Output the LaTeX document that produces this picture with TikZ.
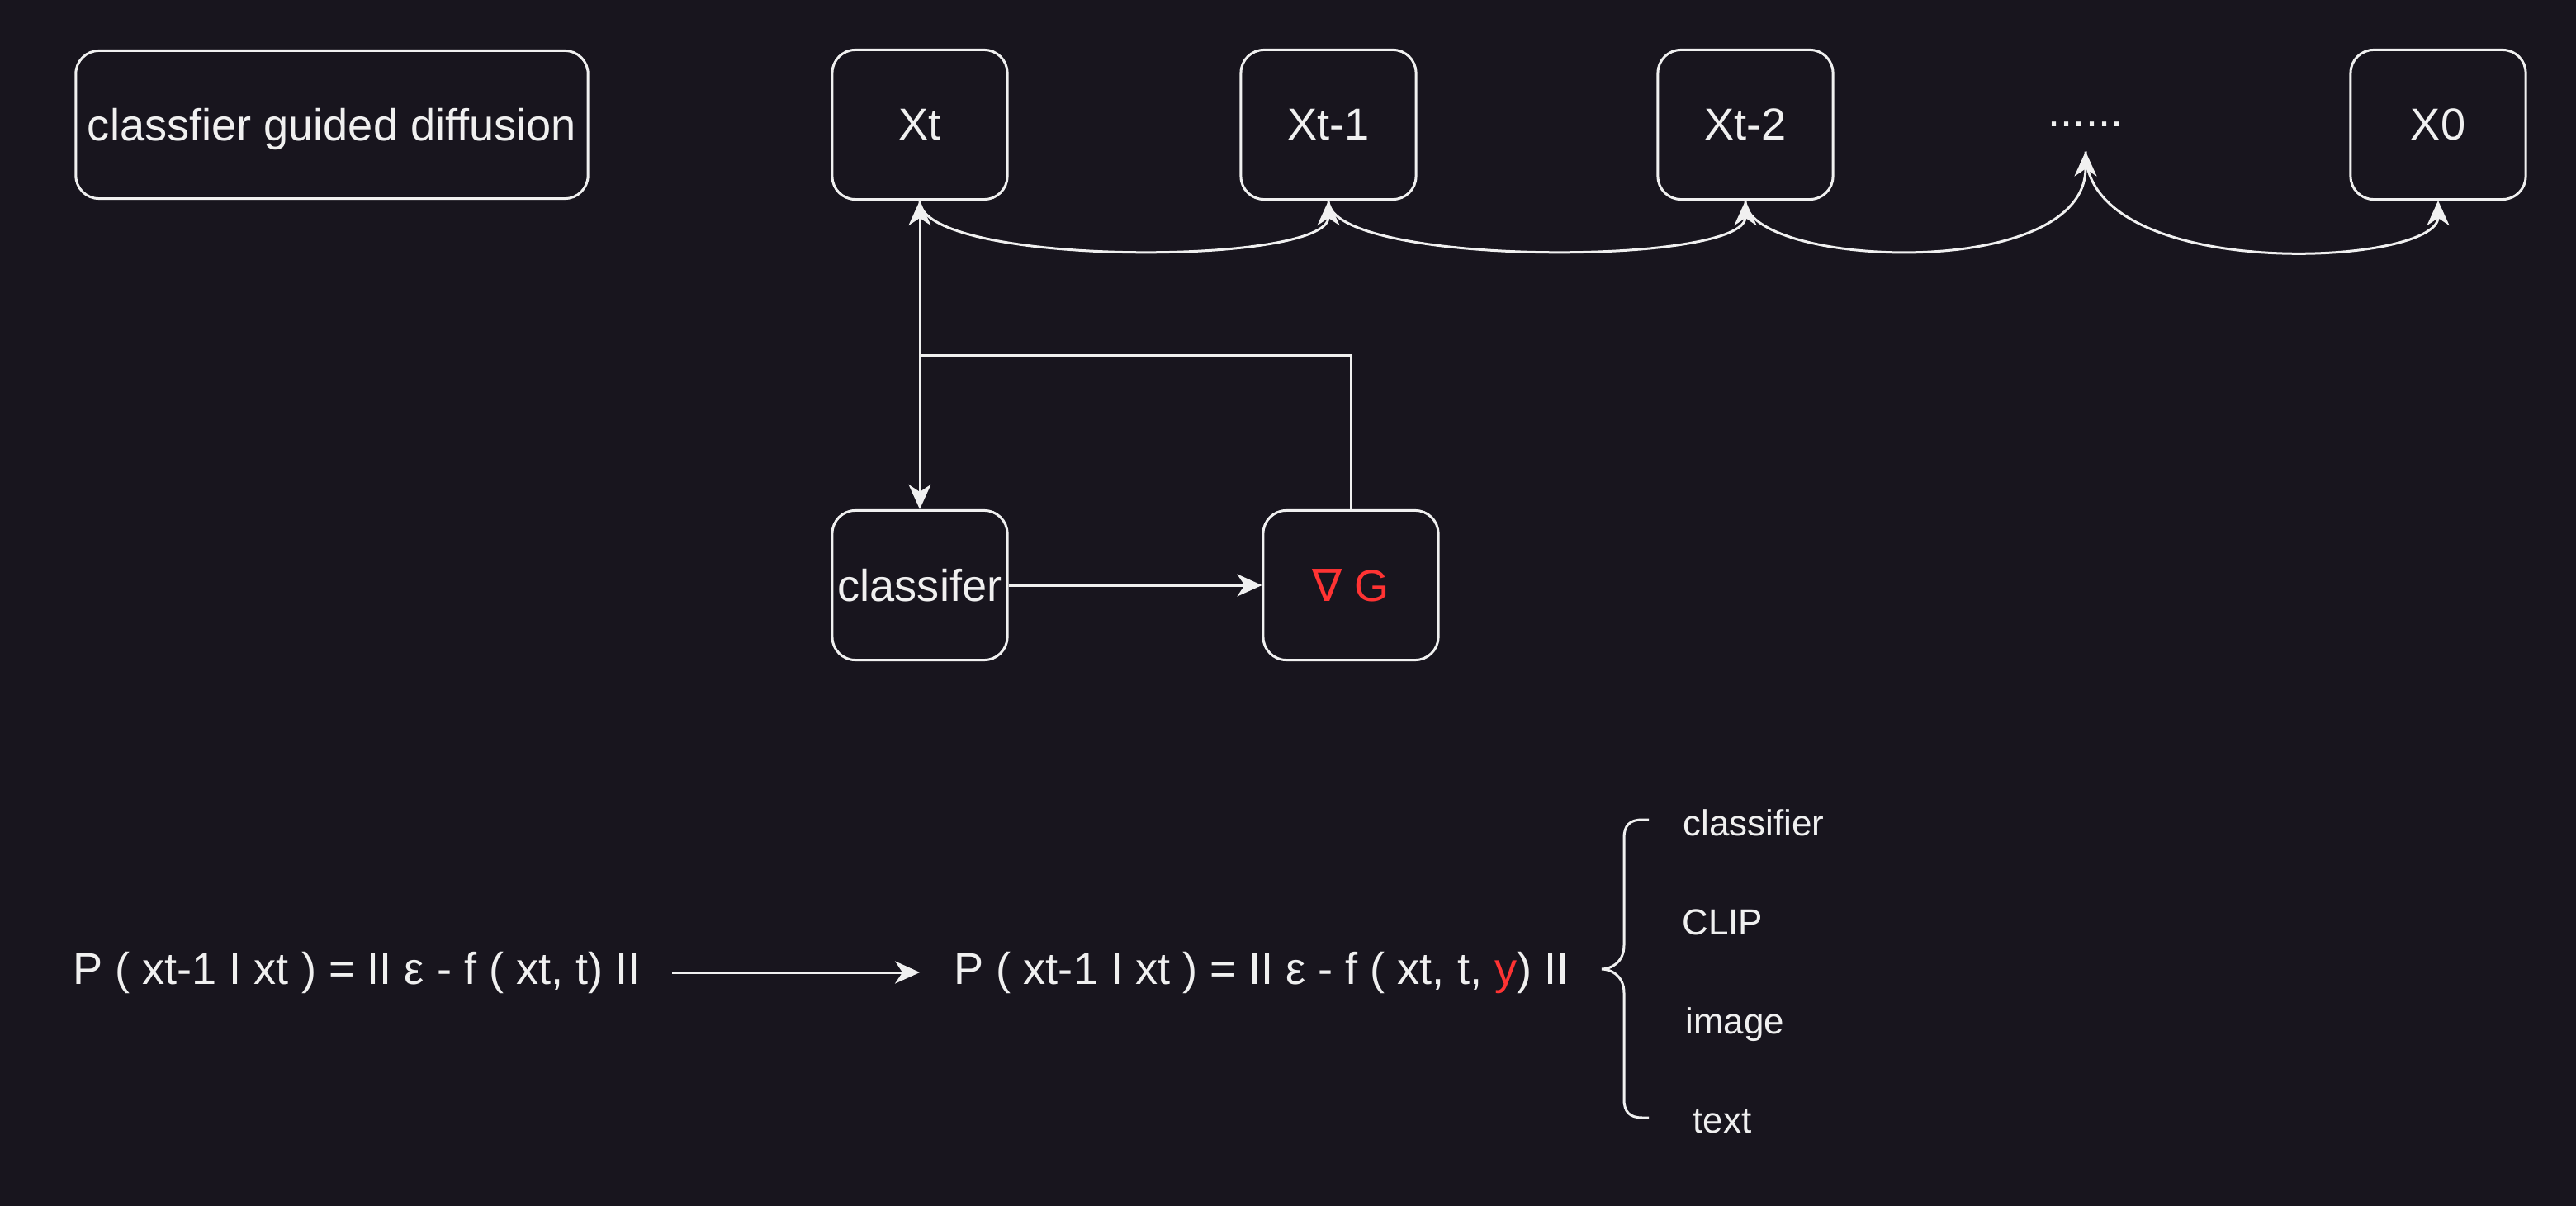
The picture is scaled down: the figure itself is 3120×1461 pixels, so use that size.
\documentclass[tikz,border=0pt]{standalone}
\usepackage{fontspec}
\setmainfont{Liberation Sans}
\newfontfamily\symfont{DejaVu Sans}
\usetikzlibrary{arrows.meta}
\definecolor{bgcol}{RGB}{24,21,30}
\definecolor{fgcol}{RGB}{240,240,240}
\definecolor{redcol}{RGB}{255,51,51}

\begin{document}
\begin{tikzpicture}[x=0.01cm, y=-0.01cm, color=fgcol, line width=0.03cm,
  >={Stealth[length=0.3cm, width=0.27cm, inset=0.09cm]},
  big/.style={font=\fontsize{15.4}{18}\selectfont},
  small/.style={font=\fontsize{12.5}{15}\selectfont},
  box/.style={big, draw, rounded corners=0.28cm, minimum width=2.12cm, minimum height=1.81cm, inner sep=0pt, text depth=0pt}]
\fill[bgcol] (0,0) rectangle (3120,1461);
\node[box, minimum width=6.2cm, minimum height=1.79cm] (title) at (402,151) {classfier guided diffusion};
% denoising chain
\foreach \name/\x/\lbl in {xt/1114/Xt, xta/1609/Xt-1, xtb/2114/Xt-2, xz/2953/X0} {
 \node[box] (\name) at (\x,151) {\lbl};
}
\node[big, minimum height=0.62cm, inner sep=0pt] (dots) at (2526,151) {......};
\foreach \a/\b in {xt/xta, xta/xtb} {
 \draw[->] (\a.south) .. controls +(0,80) and +(0,80) .. (\b.south);
}
\draw[->] (xtb.south) .. controls +(0,80) and +(0,160) .. (dots.south);
\draw[->] (dots.south) .. controls +(0,160) and +(0,80) .. (xz.south);
% guidance loop
\node[box] (cls) at (1114,709) {classifer};
\node[box, text=redcol] (grad) at (1636,709) {{\symfont ∇} G};
\coordinate (fb) at (1114,431);
\draw[->] (xt.south) -- (cls.north);
\draw[->] (grad.north) |- (fb) -- (xt.south);
\draw[->] (cls) -- (grad);
% formulas
\node[big, inner xsep=0.37cm] (f1) at (432,1178) {P ( xt-1 I xt ) = II ε - f ( xt, t) II};
\node[big, inner xsep=0.4cm] (f2) at (1528,1178) {P ( xt-1 I xt ) = II ε - f ( xt, t, \textcolor{redcol}{y}) II};
\draw[->] (f1) -- (f2);
% curly bracket
\coordinate (btop) at (1997,993);
\coordinate (bbot) at (1997,1354);
\draw (btop) -- ++(-8,0) .. controls +(-15,0) and +(0,-15) .. ++(-22,22) -- (1967,1145)
  .. controls +(0,22) and +(10,0) .. (1940,1174) .. controls +(10,0) and +(0,-22) .. (1967,1203)
  -- (1967,1332) .. controls +(0,15) and +(-15,0) .. (1989,1354) -- (bbot);
\foreach \y/\x/\lbl in {1012/2037/classifier, 1132/2036/CLIP, 1252/2040/image, 1372/2049/text} {
 \node[small, anchor=base west, inner sep=0pt] (c\y) at (\x,\y) {\lbl};
}
\end{tikzpicture}
\end{document}
